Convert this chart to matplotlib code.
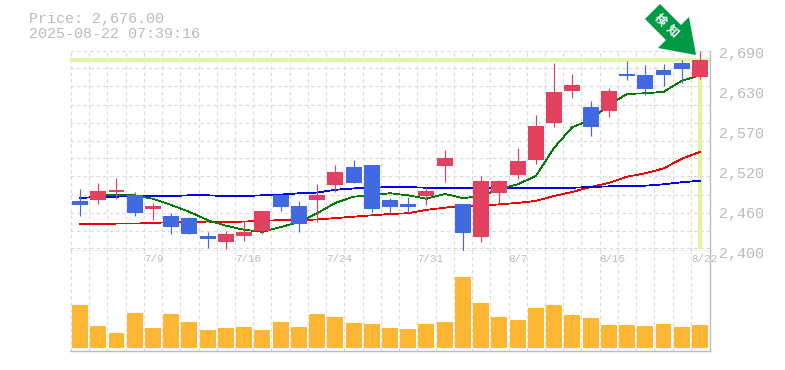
import matplotlib
matplotlib.use("Agg")
import matplotlib.pyplot as plt
from matplotlib.patches import Polygon

W, H = 785, 370
MONO = ["Liberation Mono", "DejaVu Sans Mono"]

dates = ["7/3","7/4","7/7","7/8","7/9","7/10","7/11","7/14","7/15","7/16","7/17","7/18",
         "7/22","7/23","7/24","7/25","7/28","7/29","7/30","7/31","8/1","8/4","8/5","8/6",
         "8/7","8/8","8/12","8/13","8/14","8/15","8/18","8/19","8/20","8/21","8/22"]
labelled = ["7/9", "7/16", "7/24", "7/31", "8/7", "8/15", "8/22"]
price_labels = ["2,690", "2,630", "2,570", "2,520", "2,460", "2,400"]
price_label_values = [2690, 2632, 2574, 2516, 2458, 2400]

opens  = [2472,2473,2485,2480,2460,2450,2447,2421,2412,2421,2428,2480,2465,2473,2495,2521,2524,2473,2467,2479,2523,2467,2420,2483,2509,2531,2585,2631,2608,2602,2656,2654,2662,2672,2652]
highs  = [2489,2498,2505,2485,2469,2454,2449,2427,2428,2443,2457,2482,2472,2496,2524,2531,2524,2476,2478,2492,2546,2467,2508,2502,2549,2596,2672,2656,2617,2636,2675,2669,2670,2676,2690]
lows   = [2450,2467,2475,2450,2444,2424,2424,2404,2402,2414,2424,2457,2427,2441,2485,2498,2456,2454,2453,2466,2499,2400,2412,2467,2504,2525,2579,2621,2566,2594,2647,2625,2639,2643,2649]
closes = [2466,2486,2488,2454,2465,2434,2424,2417,2424,2427,2457,2463,2438,2480,2514,2498,2460,2463,2463,2486,2534,2425,2501,2501,2530,2581,2630,2640,2579,2631,2653,2634,2654,2663,2676]
ma_short = [2473,2480,2480,2480,2475,2466,2456,2444,2436,2430,2427,2434,2441,2454,2469,2478,2480,2483,2480,2475,2482,2476,2479,2489,2496,2508,2549,2579,2589,2611,2627,2628,2630,2646,2654]
ma_mid   = [2438,2438,2439,2439,2440,2441,2441,2442,2441,2442,2443,2444,2444,2445,2447,2449,2451,2453,2454,2459,2462,2465,2465,2467,2469,2472,2479,2485,2492,2498,2507,2512,2519,2533,2543]
ma_long  = [2476,2478,2478,2479,2479,2479,2480,2480,2479,2479,2480,2481,2483,2484,2488,2490,2491,2492,2492,2491,2491,2491,2491,2491,2491,2491,2491,2491,2492,2493,2494,2494,2496,2499,2501]
volumes  = [43,22,15,35,20,34,26,18,20,21,18,26,21,34,31,25,24,20,19,24,26,71,45,31,28,40,43,33,30,23,23,22,24,21,23]
last_price = 2676

RED, BLUE = "#E2425F", "#4169E1"
GRID, AXIS, TEXT = "#DCDCDC", "#BDBDBD", "#BBBBBB"
YELLOW = "#E0F5A0"

fig = plt.figure(figsize=(W/100, H/100), dpi=100)
def box(l, t, r, b):
    return [l/W, 1-b/H, (r-l)/W, (b-t)/H]

ax = fig.add_axes(box(70, 50.5, 710, 250.5))
av = fig.add_axes(box(70, 250.5, 710, 350.5))
n = len(dates)
xs = list(range(n))
for a in (ax, av):
    a.set_xlim(-0.55, n-1+0.55)
    a.set_facecolor("white")
    a.tick_params(length=0, labelleft=False, labelbottom=False, labelright=False)
    for s in a.spines.values():
        s.set_visible(False)
    a.set_axisbelow(True)
    a.set_xticks([i-0.5 for i in xs])
    a.grid(axis="x", color=GRID, lw=0.85, ls=(0, (3, 2.5)))
    for side in ("right", "bottom"):
        a.spines[side].set_visible(True)
        a.spines[side].set_color(AXIS)
        a.spines[side].set_linewidth(1.0)

ax.set_ylim(2400, 2690)
ax.set_yticks([2690 - i*18*1.45 for i in range(12)])
ax.grid(axis="y", color=GRID, lw=0.85, ls=(0, (3, 2.5)))
av.set_ylim(-2.5, 97.5)
av.set_yticks([])

# last price marker lines
ax.axhline(last_price, color=YELLOW, lw=2.6, zorder=1.5)
ax.plot([xs[-1], xs[-1]], [2402, last_price], color=YELLOW, lw=2.9, zorder=1.5, solid_capstyle="butt")

# moving averages
ax.plot(xs, ma_mid, color="#EE0000", lw=0.55, zorder=2, antialiased=False)
ax.plot(xs, ma_long, color="#0000EE", lw=0.55, zorder=2, antialiased=False)
ax.plot(xs[1:], ma_short[1:], color="#007A00", lw=0.55, zorder=2, antialiased=False)

# candles
for i in xs:
    col = RED if closes[i] >= opens[i] else BLUE
    ax.vlines(i, lows[i], highs[i], color=col, lw=0.85, zorder=3, clip_on=False)
    ax.bar(i, abs(closes[i]-opens[i]), bottom=min(opens[i], closes[i]), width=0.875,
           color=col, zorder=3.5, linewidth=0)

# volume
av.bar(xs, volumes, width=0.875, color="#FFB733", linewidth=0, zorder=3)

# tick labels
for d in labelled:
    i = dates.index(d)
    av.annotate(d, xy=(i-0.5, 1), xycoords=("data", "axes fraction"), xytext=(0, -8),
                textcoords="offset pixels", ha="left", va="center", family=MONO,
                fontsize=7.8, color=TEXT, zorder=5)
for lab, v in zip(price_labels, price_label_values):
    ax.annotate(lab, xy=(1, v), xycoords=("axes fraction", "data"), xytext=(9, -3.5),
                textcoords="offset pixels", ha="left", va="center", family=MONO,
                fontsize=10.8, color=TEXT, annotation_clip=False)

# heading
fig.text(29/W, 1-18.5/H, f"Price: {last_price:,.2f}", family=MONO, fontsize=10.8, color=TEXT, va="center")
fig.text(29/W, 1-33.5/H, "2025-08-22 07:39:16", family=MONO, fontsize=10.8, color=TEXT, va="center")

# arrow badge
pts = [(660, 4), (645, 19), (666, 40), (658, 48), (696, 55), (689, 17), (681, 25)]
fig.add_artist(Polygon([(x/W, 1-y/H) for x, y in pts], closed=True, transform=fig.transFigure,
                       facecolor="#009944", edgecolor="none", zorder=6))
for ch, (cx, cy) in zip("検知", [(660, 19.5), (672, 31)]):
    fig.text(cx/W, 1-cy/H, ch, family=["Noto Sans CJK JP", "DejaVu Sans"], fontsize=8.6, fontweight="bold",
             color="white", rotation=-45, ha="center", va="center", zorder=7, rotation_mode="anchor")

fig.savefig("out.png", dpi=100, facecolor="white")
